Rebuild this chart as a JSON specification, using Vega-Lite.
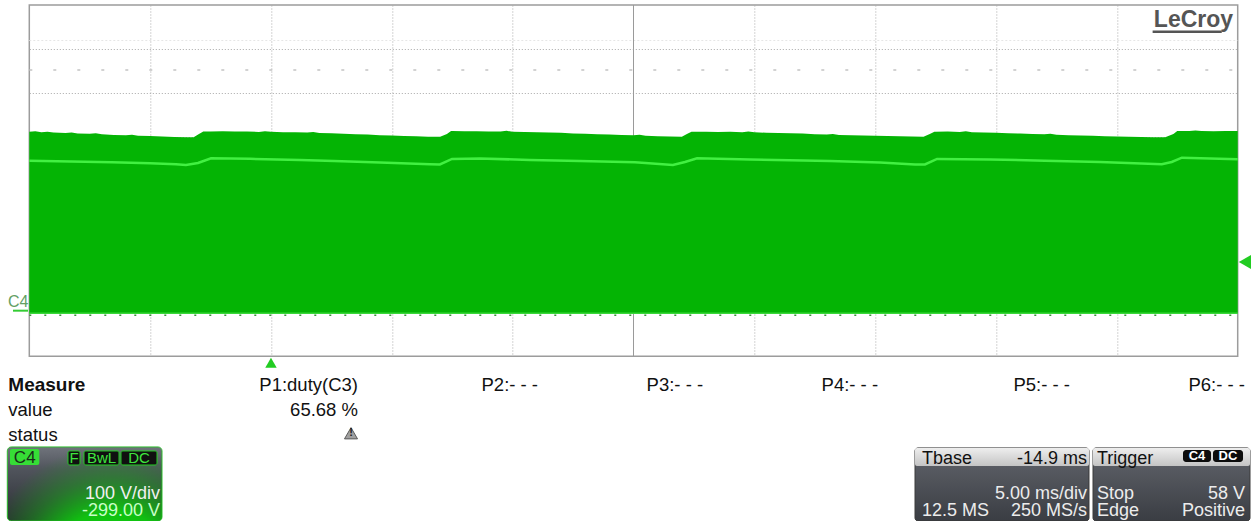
{
  "$schema": "https://vega.github.io/schema/vega-lite/v6.json",
  "width": 1208.4,
  "height": 351.2,
  "autosize": {"type": "none"},
  "padding": {"left": 29.3, "top": 5, "right": 13.3, "bottom": 164.8},
  "background": "white",
  "config": {
    "view": {"stroke": "#9c9c9c", "strokeWidth": 1.5},
    "text": {"font": "Liberation Sans", "baseline": "alphabetic"}
  },
  "datasets": {
    "env": [
      {"t": -10, "v": 410.3}, {"t": -9.75, "v": 411.2}, {"t": -9.5, "v": 409.3}, {"t": -9.25, "v": 410.0}, {"t": -9.0, "v": 408.7}, {"t": -8.5, "v": 407.5},
      {"t": -8.25, "v": 408.6}, {"t": -8.0, "v": 406.4}, {"t": -7.5, "v": 405.7}, {"t": -7.25, "v": 406.9}, {"t": -7.0, "v": 404.6}, {"t": -6.5, "v": 403.0},
      {"t": -6.0, "v": 402.3}, {"t": -5.75, "v": 403.4}, {"t": -5.5, "v": 401.1}, {"t": -5.0, "v": 400.7}, {"t": -4.5, "v": 399.5},
      {"t": -4.0, "v": 398.4}, {"t": -3.5, "v": 397.9}, {"t": -3.2, "v": 397.7}, {"t": -2.98, "v": 405.2},
      {"t": -2.8, "v": 410.9}, {"t": -2.5, "v": 410.9}, {"t": -2.0, "v": 411.4}, {"t": -1.5, "v": 410.7},
      {"t": -1.0, "v": 410.9}, {"t": -0.5, "v": 409.8}, {"t": -0.25, "v": 411.6}, {"t": 0.0, "v": 410.3}, {"t": 0.5, "v": 409.3},
      {"t": 1.0, "v": 409.1}, {"t": 1.5, "v": 408.4}, {"t": 1.75, "v": 409.6}, {"t": 2.0, "v": 407.5}, {"t": 2.5, "v": 407.1},
      {"t": 3.0, "v": 406.0}, {"t": 3.5, "v": 404.8}, {"t": 4.0, "v": 404.1}, {"t": 4.5, "v": 402.5},
      {"t": 5.0, "v": 401.8}, {"t": 5.5, "v": 400.7}, {"t": 6.0, "v": 400.0}, {"t": 6.5, "v": 399.1},
      {"t": 7.0, "v": 398.9}, {"t": 7.28, "v": 405.2}, {"t": 7.45, "v": 412.1}, {"t": 7.5, "v": 412.1},
      {"t": 8.0, "v": 411.4}, {"t": 8.5, "v": 411.6}, {"t": 9.0, "v": 410.7}, {"t": 9.5, "v": 410.9},
      {"t": 9.75, "v": 412.4}, {"t": 10.0, "v": 410.0}, {"t": 10.5, "v": 409.8}, {"t": 11.0, "v": 409.3}, {"t": 11.5, "v": 408.7},
      {"t": 12.0, "v": 408.0}, {"t": 12.5, "v": 406.4}, {"t": 13.0, "v": 405.7}, {"t": 13.5, "v": 404.6},
      {"t": 14.0, "v": 404.1}, {"t": 14.5, "v": 403.0}, {"t": 15.0, "v": 402.3}, {"t": 15.25, "v": 403.5}, {"t": 15.5, "v": 401.1},
      {"t": 16.0, "v": 400.2}, {"t": 16.5, "v": 399.3}, {"t": 17.0, "v": 398.9}, {"t": 17.21, "v": 405.2},
      {"t": 17.4, "v": 410.5}, {"t": 17.5, "v": 410.5}, {"t": 18.0, "v": 410.3}, {"t": 18.5, "v": 409.8},
      {"t": 19.0, "v": 410.3}, {"t": 19.5, "v": 409.3}, {"t": 19.75, "v": 410.6}, {"t": 20.0, "v": 408.9}, {"t": 20.5, "v": 408.0},
      {"t": 21.0, "v": 407.5}, {"t": 21.5, "v": 406.8}, {"t": 22.0, "v": 406.2}, {"t": 22.5, "v": 404.8},
      {"t": 23.0, "v": 404.1}, {"t": 23.25, "v": 405.3}, {"t": 23.5, "v": 403.0}, {"t": 24.0, "v": 402.5}, {"t": 24.5, "v": 401.6},
      {"t": 25.0, "v": 401.1}, {"t": 25.5, "v": 400.7}, {"t": 26.0, "v": 400.0}, {"t": 26.5, "v": 399.5},
      {"t": 27.0, "v": 399.1}, {"t": 27.26, "v": 405.2}, {"t": 27.45, "v": 410.5}, {"t": 27.5, "v": 410.5},
      {"t": 28.0, "v": 410.7}, {"t": 28.5, "v": 409.8}, {"t": 28.75, "v": 411.3}, {"t": 29.0, "v": 409.3}, {"t": 29.5, "v": 408.7},
      {"t": 30.0, "v": 408.0}, {"t": 30.5, "v": 407.1}, {"t": 31.0, "v": 406.2}, {"t": 31.5, "v": 405.2},
      {"t": 32.0, "v": 404.6}, {"t": 32.25, "v": 405.9}, {"t": 32.5, "v": 403.4}, {"t": 33.0, "v": 402.5}, {"t": 33.5, "v": 401.8},
      {"t": 34.0, "v": 401.1}, {"t": 34.5, "v": 400.2}, {"t": 35.0, "v": 399.5}, {"t": 35.5, "v": 399.1},
      {"t": 36.0, "v": 398.4}, {"t": 36.5, "v": 397.9}, {"t": 37.0, "v": 397.7}, {"t": 37.34, "v": 405.2},
      {"t": 37.5, "v": 412.1}, {"t": 38.0, "v": 411.8}, {"t": 38.25, "v": 413.4}, {"t": 38.5, "v": 412.1}, {"t": 39.0, "v": 411.6},
      {"t": 39.5, "v": 412.1}, {"t": 40.0, "v": 412.1}
    ],
    "mid": [
      {"t": -10, "v": 344.4}, {"t": -6.58, "v": 340.8}, {"t": -5.0, "v": 338.5}, {"t": -3.93, "v": 336.2},
      {"t": -3.52, "v": 334.6}, {"t": -3.02, "v": 339.2}, {"t": -2.48, "v": 349.9}, {"t": -0.87, "v": 348.7},
      {"t": 1.2, "v": 346.0}, {"t": 2.61, "v": 343.7}, {"t": 4.51, "v": 340.3}, {"t": 6.58, "v": 336.2},
      {"t": 6.99, "v": 335.8}, {"t": 7.49, "v": 348.3}, {"t": 8.64, "v": 349.4}, {"t": 10.71, "v": 346.0},
      {"t": 12.78, "v": 343.7}, {"t": 15.06, "v": 340.8}, {"t": 16.63, "v": 334.6}, {"t": 17.13, "v": 341.5},
      {"t": 17.63, "v": 349.9}, {"t": 19.82, "v": 347.2}, {"t": 23.13, "v": 343.7}, {"t": 25.2, "v": 340.3},
      {"t": 26.65, "v": 335.8}, {"t": 27.06, "v": 335.8}, {"t": 27.56, "v": 348.3}, {"t": 29.75, "v": 347.2},
      {"t": 32.02, "v": 344.4}, {"t": 34.3, "v": 341.5}, {"t": 36.86, "v": 336.2}, {"t": 37.27, "v": 341.5},
      {"t": 37.69, "v": 351.3}, {"t": 38.85, "v": 349.4}, {"t": 40.0, "v": 347.6}
    ]
  },
  "encoding": {
    "x": {
      "field": "t", "type": "quantitative",
      "scale": {"domain": [-10, 40], "nice": false, "zero": false},
      "axis": {"values": [-5, 0, 5, 10, 20, 25, 30, 35], "grid": true, "gridColor": "#a8a8a8", "gridDash": [1, 2], "gridWidth": 1, "labels": false, "ticks": false, "domain": false, "title": null}
    },
    "y": {
      "field": "v", "type": "quantitative",
      "scale": {"domain": [-101, 699], "nice": false, "zero": false},
      "axis": {"values": [-1, 99, 199, 299, 399, 499, 599], "grid": true, "gridColor": "#a8a8a8", "gridDash": [1, 2], "gridWidth": 1, "labels": false, "ticks": false, "domain": false, "title": null}
    }
  },
  "layer": [
    {
      "data": {"values": [{"t": -10, "t2": 40, "v": 551}]},
      "mark": {"type": "rule", "color": "#c4c4c4", "strokeDash": [3, 21], "strokeWidth": 1.5},
      "encoding": {"x2": {"field": "t2"}}
    },
    {
      "data": {"values": [{"t": -10, "t2": 40, "v": 618.2}]},
      "mark": {"type": "rule", "color": "#e6e6e6", "strokeDash": [2, 2], "strokeWidth": 1},
      "encoding": {"x2": {"field": "t2"}}
    },
    {
      "data": {"values": [{"t": 15, "v": -101, "v2": 699}]},
      "mark": {"type": "rule", "color": "#9a9a9a", "strokeWidth": 1},
      "encoding": {"y2": {"field": "v2"}}
    },
    {
      "data": {"name": "env"},
      "mark": {"type": "area", "color": "#04b404", "opacity": 1},
      "encoding": {"y2": {"datum": -4}}
    },
    {
      "data": {"values": [{"t": -10, "t2": 40, "v": -3}]},
      "mark": {"type": "rule", "color": "#38d838", "strokeWidth": 1.5},
      "encoding": {"x2": {"field": "t2"}}
    },
    {
      "data": {"values": [{"t": -10, "t2": 40, "v": -7.5}]},
      "mark": {"type": "rule", "color": "#3a8f3a", "strokeDash": [2, 13], "strokeWidth": 1.5},
      "encoding": {"x2": {"field": "t2"}}
    },
    {
      "data": {"name": "mid"},
      "mark": {"type": "line", "color": "#42f042", "strokeWidth": 2.5}
    },
    {
      "data": {"values": [{"t": -10.881, "v": 11.8, "label": "C4"}]},
      "mark": {"type": "text", "align": "left", "fontSize": 16, "color": "#64a064"},
      "encoding": {"text": {"field": "label"}}
    },
    {
      "data": {"values": [{"t": -10.674, "t2": -10.054, "v": 2.7}]},
      "mark": {"type": "rule", "color": "#33cc33", "strokeWidth": 2},
      "encoding": {"x2": {"field": "t2"}}
    },
    {
      "data": {"values": [{"t": 39.81, "v": 648.3, "label": "LeCroy"}]},
      "mark": {"type": "text", "align": "right", "font": "Liberation Sans", "fontWeight": "bold", "fontSize": 23, "color": "#555555"},
      "encoding": {"text": {"field": "label"}}
    },
    {
      "data": {"values": [{"t": 36.48, "t2": 39.34, "v": 638.0}]},
      "mark": {"type": "rule", "color": "#555555", "strokeWidth": 2.5},
      "encoding": {"x2": {"field": "t2"}}
    },
    {
      "data": {"values": [{"t": 0, "v": -116}]},
      "mark": {"type": "point", "shape": "triangle-up", "size": 130, "filled": true, "color": "#22cc22", "opacity": 1}
    },
    {
      "data": {"values": [{"t": 40.3, "v": 113.7}]},
      "mark": {"type": "point", "shape": "triangle-left", "size": 200, "filled": true, "color": "#22cc22", "opacity": 1}
    },
    {
      "data": {"values": [{"t": -10.869, "v": -181.3, "label": "Measure"}]},
      "mark": {"type": "text", "align": "left", "fontSize": 19, "fontWeight": "bold", "color": "#111111"},
      "encoding": {"text": {"field": "label"}}
    },
    {
      "data": {"values": [
        {"t": -10.869, "v": -237.1, "label": "value"},
        {"t": -10.869, "v": -294.1, "label": "status"}
      ]},
      "mark": {"type": "text", "align": "left", "fontSize": 18.5, "color": "#111111"},
      "encoding": {"text": {"field": "label"}}
    },
    {
      "data": {"values": [
        {"t": 3.601, "v": -181.3, "label": "P1:duty(C3)"},
        {"t": 3.601, "v": -237.1, "label": "65.68 %"},
        {"t": 11.05, "v": -181.3, "label": "P2:- - -"},
        {"t": 17.88, "v": -181.3, "label": "P3:- - -"},
        {"t": 25.12, "v": -181.3, "label": "P4:- - -"},
        {"t": 33.06, "v": -181.3, "label": "P5:- - -"},
        {"t": 40.30, "v": -181.3, "label": "P6:- - -"}
      ]},
      "mark": {"type": "text", "align": "right", "fontSize": 18.5, "color": "#111111"},
      "encoding": {"text": {"field": "label"}}
    },
    {
      "data": {"values": [{"t": 3.311, "v": -276.5}]},
      "mark": {"type": "point", "shape": "triangle-up", "size": 170, "filled": true, "color": "#a0a0a0", "stroke": "#5a5a5a", "strokeWidth": 1, "opacity": 1}
    },
    {
      "data": {"values": [{"t": 3.311, "v": -283.5, "label": "!"}]},
      "mark": {"type": "text", "align": "center", "fontSize": 11, "fontWeight": "bold", "color": "#222222"},
      "encoding": {"text": {"field": "label"}}
    },
    {
      "data": {"values": [{"t": -10.910, "t2": -4.509, "v": -307.7, "v2": -476.3}]},
      "mark": {
        "type": "rect", "cornerRadius": 4, "stroke": "#2fbf2f", "strokeWidth": 1,
        "fill": {"gradient": "linear", "x1": 0, "y1": 0, "x2": 0, "y2": 1,
          "stops": [{"offset": 0, "color": "#70747c"}, {"offset": 0.3, "color": "#50545c"}, {"offset": 1, "color": "#2a2d32"}]}
      },
      "encoding": {"x2": {"field": "t2"}, "y2": {"field": "v2"}}
    },
    {
      "data": {"values": [{"t": -10.910, "t2": -4.509, "v": -307.7, "v2": -476.3}]},
      "mark": {
        "type": "rect", "cornerRadius": 4,
        "fill": {"gradient": "radial", "x1": 0.68, "y1": 1.1, "r1": 0, "x2": 0.68, "y2": 1.1, "r2": 0.85,
          "stops": [{"offset": 0, "color": "rgba(10,230,10,1)"}, {"offset": 0.5, "color": "rgba(15,200,15,0.95)"}, {"offset": 0.75, "color": "rgba(20,170,20,0.45)"}, {"offset": 1, "color": "rgba(20,150,20,0)"}]}
      },
      "encoding": {"x2": {"field": "t2"}, "y2": {"field": "v2"}}
    },
    {
      "data": {"values": [{"t": -10.799, "t2": -9.586, "v": -312.3, "v2": -348.8}]},
      "mark": {"type": "rect", "cornerRadius": 2, "fill": "#36dd36"},
      "encoding": {"x2": {"field": "t2"}, "y2": {"field": "v2"}}
    },
    {
      "data": {"values": [
        {"t": -8.399, "t2": -7.902, "v": -316.9, "v2": -348.8},
        {"t": -7.737, "t2": -6.289, "v": -316.9, "v2": -348.8},
        {"t": -6.206, "t2": -4.716, "v": -316.9, "v2": -348.8}
      ]},
      "mark": {"type": "rect", "cornerRadius": 2, "fill": "#101010", "stroke": "#22cc22", "strokeWidth": 1},
      "encoding": {"x2": {"field": "t2"}, "y2": {"field": "v2"}}
    },
    {
      "data": {"values": [{"t": -10.190, "v": -344.2, "label": "C4"}]},
      "mark": {"type": "text", "align": "center", "fontSize": 17, "color": "#1a2a1a"},
      "encoding": {"text": {"field": "label"}}
    },
    {
      "data": {"values": [
        {"t": -8.150, "v": -344.2, "label": "F"},
        {"t": -7.013, "v": -344.2, "label": "BwL"},
        {"t": -5.461, "v": -344.2, "label": "DC"}
      ]},
      "mark": {"type": "text", "align": "center", "fontSize": 15, "color": "#3ee63e"},
      "encoding": {"text": {"field": "label"}}
    },
    {
      "data": {"values": [{"t": -4.592, "v": -426.2, "label": "100 V/div"}]},
      "mark": {"type": "text", "align": "right", "fontSize": 18, "color": "#f0f0f0"},
      "encoding": {"text": {"field": "label"}}
    },
    {
      "data": {"values": [{"t": -4.592, "v": -466.1, "label": "-299.00 V"}]},
      "mark": {"type": "text", "align": "right", "fontSize": 18, "color": "#c8ffc8"},
      "encoding": {"text": {"field": "label"}}
    },
    {
      "data": {"values": [
        {"t": 26.648, "t2": 33.847, "v": -310.0, "v2": -476.3},
        {"t": 34.013, "t2": 40.509, "v": -310.0, "v2": -476.3}
      ]},
      "mark": {
        "type": "rect", "cornerRadius": 3, "stroke": "#3a3a3a", "strokeWidth": 1,
        "fill": {"gradient": "linear", "x1": 0, "y1": 0, "x2": 0, "y2": 1,
          "stops": [{"offset": 0, "color": "#62656c"}, {"offset": 1, "color": "#3a3d43"}]}
      },
      "encoding": {"x2": {"field": "t2"}, "y2": {"field": "v2"}}
    },
    {
      "data": {"values": [
        {"t": 26.648, "t2": 33.847, "v": -310.0, "v2": -351.0},
        {"t": 34.013, "t2": 40.509, "v": -310.0, "v2": -351.0}
      ]},
      "mark": {
        "type": "rect", "cornerRadius": 2,
        "fill": {"gradient": "linear", "x1": 0, "y1": 0, "x2": 0, "y2": 1,
          "stops": [{"offset": 0, "color": "#eeeeee"}, {"offset": 1, "color": "#c4c4c4"}]}
      },
      "encoding": {"x2": {"field": "t2"}, "y2": {"field": "v2"}}
    },
    {
      "data": {"values": [
        {"t": 37.737, "t2": 38.896, "v": -314.6, "v2": -341.9},
        {"t": 38.978, "t2": 40.220, "v": -314.6, "v2": -341.9}
      ]},
      "mark": {"type": "rect", "cornerRadius": 3, "fill": "#0c0c0c"},
      "encoding": {"x2": {"field": "t2"}, "y2": {"field": "v2"}}
    },
    {
      "data": {"values": [
        {"t": 38.317, "v": -337.4, "label": "C4"},
        {"t": 39.599, "v": -337.4, "label": "DC"}
      ]},
      "mark": {"type": "text", "align": "center", "fontSize": 13, "fontWeight": "bold", "color": "#ffffff"},
      "encoding": {"text": {"field": "label"}}
    },
    {
      "data": {"values": [
        {"t": 26.937, "v": -346.5, "label": "Tbase"},
        {"t": 34.178, "v": -346.5, "label": "Trigger"}
      ]},
      "mark": {"type": "text", "align": "left", "fontSize": 18, "color": "#111111"},
      "encoding": {"text": {"field": "label"}}
    },
    {
      "data": {"values": [{"t": 33.765, "v": -346.5, "label": "-14.9 ms"}]},
      "mark": {"type": "text", "align": "right", "fontSize": 18, "color": "#111111"},
      "encoding": {"text": {"field": "label"}}
    },
    {
      "data": {"values": [
        {"t": 26.937, "v": -466.1, "label": "12.5 MS"},
        {"t": 34.178, "v": -426.2, "label": "Stop"},
        {"t": 34.178, "v": -466.1, "label": "Edge"}
      ]},
      "mark": {"type": "text", "align": "left", "fontSize": 18, "color": "#ececec"},
      "encoding": {"text": {"field": "label"}}
    },
    {
      "data": {"values": [
        {"t": 33.765, "v": -426.2, "label": "5.00 ms/div"},
        {"t": 33.765, "v": -466.1, "label": "250 MS/s"},
        {"t": 40.301, "v": -426.2, "label": "58 V"},
        {"t": 40.301, "v": -466.1, "label": "Positive"}
      ]},
      "mark": {"type": "text", "align": "right", "fontSize": 18, "color": "#ececec"},
      "encoding": {"text": {"field": "label"}}
    }
  ]
}
